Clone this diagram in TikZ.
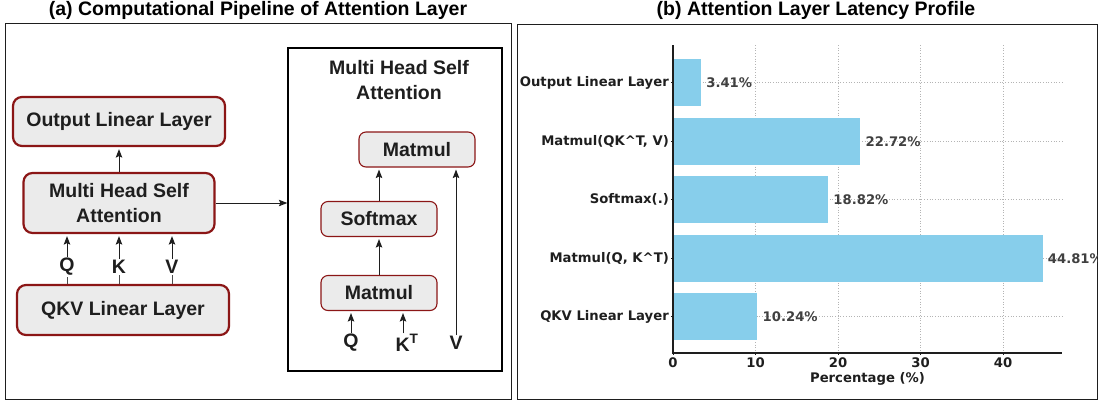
\documentclass[tikz,border=0pt]{standalone}
\usepackage{fontspec}
\setmainfont{Liberation Sans}
\newfontfamily\plotfont{DejaVu Sans}
\usetikzlibrary{arrows.meta}

\definecolor{boxred}{RGB}{139,22,22}
\definecolor{boxgray}{RGB}{235,235,235}
\definecolor{skyblue}{RGB}{135,206,235}
\definecolor{ink}{RGB}{30,30,30}
\definecolor{gridgray}{RGB}{180,180,180}

\tikzset{
  big/.style={font=\fontsize{19.5}{25}\selectfont\bfseries},
  layer/.style={big, draw=boxred, fill=boxgray, line width=2.2pt, rounded corners=9pt, text=ink, align=center},
  op/.style={big, draw=boxred, fill=boxgray, line width=1.1pt, rounded corners=7pt, text=ink, minimum width=116pt, minimum height=35pt},
  sym/.style={big, inner sep=1pt, text=ink},
  flow/.style={-{Stealth[length=8.5pt,width=6.5pt,inset=1.5pt]}, line width=1pt, ink, shorten >=2pt},
  plt/.style={font=\plotfont\fontsize{13.2}{15}\selectfont\bfseries, inner sep=1pt},
}

\begin{document}
\begin{tikzpicture}[x=1pt,y=-1pt]
  \useasboundingbox (0,0) rectangle (1098,400);

  % (a) pipeline
  \node[big] (ttla) at (258,10) {(a) Computational Pipeline of Attention Layer};
  \draw[ink, line width=0.8pt] (5,23) rectangle (511,399);

  \node[layer, minimum width=212pt, minimum height=49pt] (outl) at (119,121.5) {Output Linear Layer};
  \node[layer, minimum width=191pt, minimum height=60pt] (mhsa) at (119,203) {Multi Head Self\\Attention};
  \node[layer, minimum width=212pt, minimum height=50pt] (qkvl) at (123,310) {QKV Linear Layer};

  \foreach \n/\x/\t in {q/67/Q, k/119/K, v/172/V} {
    \node[sym] (\n) at (\x,267) {\t};
    \draw[ink!80, line width=1pt] (qkvl.north -| \n) -- (\n.south);
    \draw[flow] (\n.north) -- (mhsa.south -| \n);
  }
  \draw[flow] (mhsa.north) -- (outl.south);

  % zoom into the attention block
  \node[draw=black, line width=1.3pt, minimum width=214pt, minimum height=323pt, inner sep=0pt] (mhsabox) at (395,209.5) {};
  \draw[flow, shorten >=0pt] (mhsa.east) -- (mhsabox.west |- mhsa.east);
  \node[big, align=center, text=ink] (mhsat) at (399,80) {Multi Head Self\\Attention};

  \node[op] (mmtop) at (417,149.5) {Matmul};
  \node[op] (soft) at (379,219) {Softmax};
  \node[op] (mmbot) at (379,293) {Matmul};
  \node[sym] (qi) at (351,343) {Q};
  \node[sym] (ki) at (407,343) {K\textsuperscript{T}};
  \node[sym] (vi) at (456,343) {V};

  \draw[flow] (qi.north) -- (mmbot.south -| qi);
  \draw[flow] ([xshift=-4pt]ki.north) -- ([xshift=-4pt]ki.north |- mmbot.south);
  \draw[flow] (mmbot.north) -- (soft.south);
  \draw[flow] (soft.north) -- (mmtop.south -| soft);
  \draw[flow] (vi.north) -- (mmtop.south -| vi);

  % (b) latency profile
  \node[big] (ttlb) at (816,10) {(b) Attention Layer Latency Profile};
  \draw[ink, line width=0.8pt] (517,24) rectangle (1097,399);

  \foreach \v in {10,20,30,40}
    \draw[gridgray, dotted, line width=0.7pt] ({673+8.25*\v},45) -- ({673+8.25*\v},353);

  \foreach \i/\yc/\val/\name in {1/82.5/3.41/{Output Linear Layer},
                                  2/141.5/22.72/{Matmul(QK\textasciicircum T, V)},
                                  3/199.5/18.82/{Softmax(.)},
                                  4/258.5/44.81/{Matmul(Q, K\textasciicircum T)},
                                  5/316.5/10.24/{QKV Linear Layer}} {
    \draw[gridgray, dotted, line width=0.7pt] (673,\yc) -- (1062,\yc);
    \fill[skyblue] (673,\yc-23.5) rectangle ({673+8.25*\val},\yc+23.5);
    \draw[ink, line width=0.8pt] (671,\yc) -- (673,\yc);
    \node[plt, anchor=east, text=ink] (cat\i) at (670,\yc) {\name};
    \node[plt, anchor=west, text=ink!85] (val\i) at ({673+8.25*\val+4},\yc) {\val\%};
  }

  \draw[ink, line width=1.1pt] (673,45) -- (673,353) -- (1062,353);
  \foreach \v in {0,10,20,30,40} {
    \draw[ink, line width=0.8pt] ({673+8.25*\v},353) -- ({673+8.25*\v},355);
    \node[plt, text=ink] (tick\v) at ({673+8.25*\v},362.5) {\v};
  }
  \node[plt, text=ink] (xlab) at (867.5,379) {Percentage (\%)};
\end{tikzpicture}
\end{document}
